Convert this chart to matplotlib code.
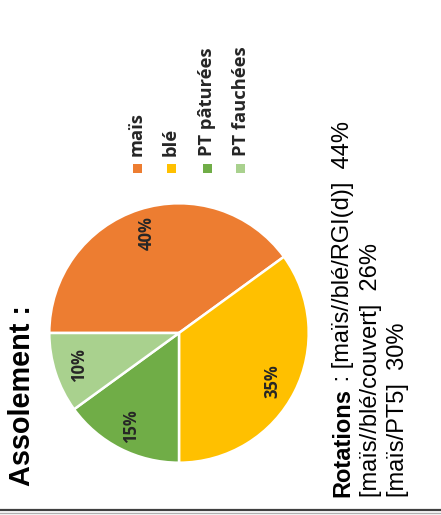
import matplotlib
matplotlib.use("Agg")
import matplotlib.pyplot as plt
from matplotlib.patches import Rectangle
from matplotlib.lines import Line2D

# Crop rotation share ("assolement")
categories = ["maïs", "blé", "PT pâturées", "PT fauchées"]
shares = [40, 35, 15, 10]
colors = ["#ED7D31", "#FFC000", "#70AD47", "#A9D18E"]

# Rotation lines
rotation_names = ["[maïs//blé/RGI(d)]", "[maïs//blé/couvert]", "[maïs/PT5]"]
rotation_shares = [44, 26, 30]

W, H = 441, 515
fig = plt.figure(figsize=(W / 100, H / 100), dpi=100)
fig.patch.set_facecolor("white")


def fx(px):
    return px / W


def fy(py):
    return 1 - py / H


# Pie (the whole slide is turned a quarter-turn, so text runs bottom-to-top)
cx, cy, r = 179, 333, 131
ax = fig.add_axes([fx(cx - r), fy(cy + r), 2 * r / W, 2 * r / H])
wedges, _, autotexts = ax.pie(
    shares, colors=colors, startangle=180, counterclock=False,
    autopct="%d%%", pctdistance=0.81,
    wedgeprops=dict(edgecolor="white", linewidth=1.8),
    textprops=dict(family="Open Sans", fontweight="bold", fontsize=12,
                   color="#262626"),
)
for t in autotexts:
    t.set_rotation(90)
ax.set_xlim(-1.01, 1.01)
ax.set_ylim(-1.01, 1.01)
ax.set_aspect("auto")
ax.axis("off")

# Title
fig.text(fx(22), fy(486), "Assolement :", rotation=90, family="Liberation Sans",
         fontweight="bold", fontsize=20.8, ha="center", va="bottom", color="black")

# Legend (vertical text, squares below)
leg_x = [137, 171, 207, 241]
for x, lab, col in zip(leg_x, categories, colors):
    fig.patches.append(Rectangle((fx(x - 4.5), fy(172.5)), 9 / W, 9 / H,
                                 transform=fig.transFigure, facecolor=col,
                                 edgecolor="none"))
    fig.text(fx(x), fy(156), lab, rotation=90, family="Open Sans",
             fontweight="bold", fontsize=13.2, ha="center", va="bottom",
             color="#262626")

# Rotations block
line_x = [343, 371, 398]
fs = 17
fig.canvas.draw()
renderer = fig.canvas.get_renderer()
head = fig.text(fx(line_x[0]), fy(497), "Rotations", rotation=90,
                family="Liberation Sans", fontweight="bold", fontsize=fs,
                ha="center", va="bottom", color="black")
bb = head.get_window_extent(renderer=renderer)
fig.text(fx(line_x[0]), bb.y1 / fig.dpi / (H / 100),
         f" : {rotation_names[0]}  {rotation_shares[0]}%",
         rotation=90, family="Liberation Sans", fontsize=fs, ha="center",
         va="bottom", color="black")
for x, name, val in zip(line_x[1:], rotation_names[1:], rotation_shares[1:]):
    fig.text(fx(x), fy(497), f"{name}  {val}%", rotation=90,
             family="Liberation Sans", fontsize=fs, ha="center", va="bottom",
             color="black")

# Bottom rule
fig.lines.append(Line2D([0, 1], [fy(510), fy(510)], transform=fig.transFigure,
                        color="#404040", linewidth=1.6))
fig.lines.append(Line2D([0, 1], [fy(513), fy(513)], transform=fig.transFigure,
                        color="#b0b0b0", linewidth=1.0))

fig.savefig("out.png", dpi=100, facecolor="white")
